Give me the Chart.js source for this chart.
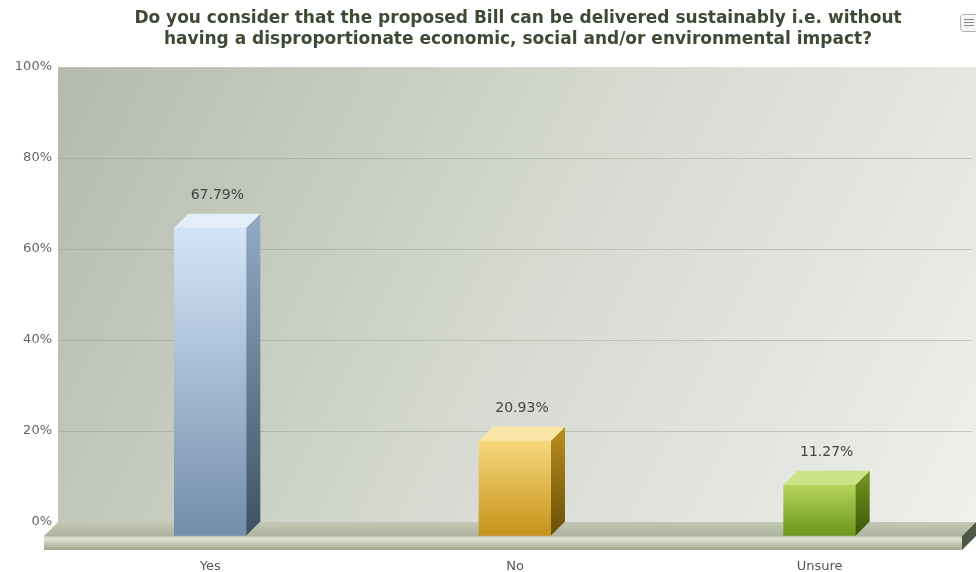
<!DOCTYPE html>
<html>
<head>
<meta charset="utf-8">
<style>
  html, body { margin: 0; padding: 0; background: #fff; }
  #wrap { width: 976px; height: 572px; }
</style>
<script src="https://cdn.jsdelivr.net/npm/chart.js@4"></script>
</head>
<body>
<div id="wrap"><canvas id="bill-graph" width="976" height="572"></canvas></div>
<script>
// Data

const answers = ['Yes', 'No', 'Unsure'];
const shares = [67.79, 20.93, 11.27];
const tickValues = [0, 20, 40, 60, 80, 100];

const titleLines = [
  'Do you consider that the proposed Bill can be delivered sustainably i.e. without',
  'having a disproportionate economic, social and/or environmental impact?'
];

// front / side / top colours for each bar
const barFront = [['#d4e5f8', '#738dab'], ['#f8d87c', '#c4931b'], ['#b6d45c', '#6a961c']];
const barSide = [['#93acc6', '#3f5064'], ['#bb901f', '#6a4e06'], ['#76991f', '#3a5608']];
const barTop = ['#e3eef9', '#f9e6a6', '#cbe384'];

const DEPTH = 14;

// Plot background, floor, 3d bars

const chartDecor = {
  id: 'chartDecor',
  afterLayout(chart) {
    // nudge the title so it sits over the plot like the original
    chart.titleBlock.left += 64;
  },
  beforeDraw(chart) {
    const ctx = chart.ctx;
    const a = chart.chartArea;
    const right = chart.width;
    const g = ctx.createLinearGradient(a.left, a.top, right, a.bottom);
    g.addColorStop(0, '#b4bbac');
    g.addColorStop(0.5, '#d5d9d0');
    g.addColorStop(1, '#eef0eb');
    ctx.save();
    ctx.fillStyle = g;
    ctx.fillRect(a.left, a.top, right - a.left, a.bottom - a.top);
    ctx.restore();
  },
  beforeDatasetsDraw(chart) {
    const ctx = chart.ctx;
    const a = chart.chartArea;
    const right = chart.width;
    const y0 = a.bottom;
    ctx.save();
    // floor top
    let g = ctx.createLinearGradient(0, y0, 0, y0 + DEPTH);
    g.addColorStop(0, '#c3c8b5');
    g.addColorStop(1, '#aeb39f');
    ctx.fillStyle = g;
    ctx.beginPath();
    ctx.moveTo(a.left, y0);
    ctx.lineTo(right, y0);
    ctx.lineTo(right - DEPTH, y0 + DEPTH);
    ctx.lineTo(a.left - DEPTH, y0 + DEPTH);
    ctx.closePath();
    ctx.fill();
    // floor front lip
    g = ctx.createLinearGradient(0, y0 + DEPTH, 0, y0 + DEPTH * 2);
    g.addColorStop(0, '#bfc4b1');
    g.addColorStop(0.2, '#dfe2d6');
    g.addColorStop(1, '#9da38d');
    ctx.fillStyle = g;
    ctx.fillRect(a.left - DEPTH, y0 + DEPTH, right - a.left, DEPTH);
    // floor right end
    ctx.fillStyle = '#4f5843';
    ctx.beginPath();
    ctx.moveTo(right, y0);
    ctx.lineTo(right, y0 + DEPTH);
    ctx.lineTo(right - DEPTH, y0 + DEPTH * 2);
    ctx.lineTo(right - DEPTH, y0 + DEPTH);
    ctx.closePath();
    ctx.fill();
    ctx.restore();
  },
  beforeDatasetDraw(chart) {
    chart.ctx.save();
    chart.ctx.translate(0, DEPTH);
  },
  afterDatasetDraw(chart, args) {
    const ctx = chart.ctx;
    ctx.restore();
    const meta = args.meta;
    ctx.save();
    meta.data.forEach((bar, i) => {
      const half = bar.width / 2;
      const top = bar.y;
      const base = bar.base;
      const r = bar.x + half;
      const l = bar.x - half;
      // side
      const g = ctx.createLinearGradient(0, top, 0, base + DEPTH);
      g.addColorStop(0, barSide[i][0]);
      g.addColorStop(1, barSide[i][1]);
      ctx.fillStyle = g;
      ctx.beginPath();
      ctx.moveTo(r, top + DEPTH);
      ctx.lineTo(r + DEPTH, top);
      ctx.lineTo(r + DEPTH, base);
      ctx.lineTo(r, base + DEPTH);
      ctx.closePath();
      ctx.fill();
      // top
      ctx.fillStyle = barTop[i];
      ctx.beginPath();
      ctx.moveTo(l, top + DEPTH);
      ctx.lineTo(l + DEPTH, top);
      ctx.lineTo(r + DEPTH, top);
      ctx.lineTo(r, top + DEPTH);
      ctx.closePath();
      ctx.fill();
      // value label
      ctx.fillStyle = '#444';
      ctx.font = '14px "DejaVu Sans"';
      ctx.textAlign = 'center';
      ctx.textBaseline = 'middle';
      ctx.fillText(shares[i].toFixed(2) + '%', bar.x + DEPTH / 2, top - 18);
    });
    ctx.restore();
  },
  afterDraw(chart) {
    // export menu button
    const ctx = chart.ctx;
    ctx.save();
    ctx.fillStyle = '#f6f6f6';
    ctx.strokeStyle = '#b0b0b0';
    ctx.beginPath();
    ctx.roundRect(960.5, 14.5, 18, 17, 3);
    ctx.fill();
    ctx.stroke();
    ctx.strokeStyle = '#888';
    for (let k = 0; k < 3; k++) {
      ctx.beginPath();
      ctx.moveTo(964, 19.5 + k * 3);
      ctx.lineTo(974, 19.5 + k * 3);
      ctx.stroke();
    }
    ctx.restore();
  }
};

const billChart = document.querySelector('#bill-graph');

const billData = {
  labels: answers,
  datasets: [{
    data: shares,
    clip: false,
    barThickness: 72,
    backgroundColor: (c) => {
      const chart = c.chart;
      const y = chart.scales && chart.scales.y;
      const i = c.dataIndex;
      if (!chart.chartArea || !y || i === undefined) return barFront[0][1];
      const g = chart.ctx.createLinearGradient(0, y.getPixelForValue(shares[i]), 0, y.getPixelForValue(0));
      g.addColorStop(0, barFront[i][0]);
      g.addColorStop(1, barFront[i][1]);
      return g;
    }
  }]
};

const billOptions = {
  responsive: false,
  animation: false,
  layout: {
    padding: { right: 4, left: 0, bottom: 0 }
  },
  scales: {
    y: {
      min: 0,
      max: 100,
      afterFit: (s) => { s.width = 58; },
      afterBuildTicks: (s) => { s.ticks = tickValues.map(v => ({ value: v })); },
      ticks: {
        padding: 6,
        color: '#666',
        font: { family: 'DejaVu Sans', size: 13 },
        callback: (v) => v + '%'
      },
      grid: {
        color: (c) => (c.tick && (c.tick.value === 100 || c.tick.value === 0)) ? 'rgba(0,0,0,0)' : 'rgba(140,148,128,0.4)',
        drawTicks: false
      },
      border: { display: false }
    },
    x: {
      afterFit: (s) => { s.height = 50; },
      ticks: {
        padding: 37,
        color: '#555',
        font: { family: 'DejaVu Sans', size: 13 }
      },
      grid: { display: false, drawTicks: false },
      border: { display: false }
    }
  },
  plugins: {
    legend: { display: false },
    tooltip: { enabled: false },
    title: {
      display: true,
      text: titleLines,
      color: '#3e4a36',
      font: { family: 'DejaVu Sans', size: 17, weight: 'bold', lineHeight: 1.18 },
      padding: { top: 9, bottom: 18 }
    }
  }
};

const billBarChart = new Chart(billChart, {
  type: 'bar',
  data: billData,
  options: billOptions,
  plugins: [chartDecor]
});
</script>
</body>
</html>
